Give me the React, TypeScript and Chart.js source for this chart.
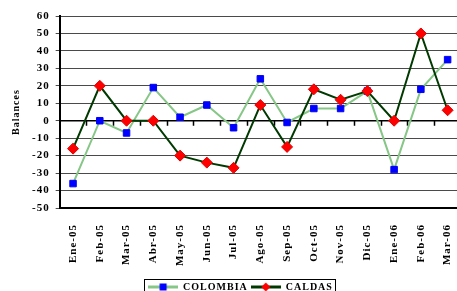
import React, { useEffect, useRef } from "react";
import { Chart, registerables } from "chart.js";

Chart.register(...registerables);

const categories = [
  "Ene-05", "Feb-05", "Mar-05", "Abr-05", "May-05", "Jun-05", "Jul-05", "Ago-05",
  "Sep-05", "Oct-05", "Nov-05", "Dic-05", "Ene-06", "Feb-06", "Mar-06",
];
const colombia = [-36, 0, -7, 19, 2, 9, -4, 24, -1, 7, 7, 17, -28, 18, 35];
const caldas = [-16, 20, 0, 0, -20, -24, -27, 9, -15, 18, 12, 17, 0, 50, 6];
const yMin = -50;
const yMax = 60;
const yStep = 10;
const yTitle = "Balances";

const FONT = "'Liberation Serif', 'Times New Roman', serif";
const LIGHT_GREEN = "#86C686";
const DARK_GREEN = "#003A00";
const BLUE = "#0000FF";
const RED = "#FF0000";

function legendIcon(line: string, fill: string, shape: "square" | "diamond") {
  const c = document.createElement("canvas");
  c.width = 30;
  c.height = 10;
  const ctx = c.getContext("2d")!;
  ctx.strokeStyle = line;
  ctx.lineWidth = 3;
  ctx.beginPath();
  ctx.moveTo(0, 5);
  ctx.lineTo(30, 5);
  ctx.stroke();
  ctx.fillStyle = fill;
  ctx.beginPath();
  if (shape === "square") {
    ctx.rect(11.5, 1.5, 7, 7);
  } else {
    ctx.moveTo(15, 0.5);
    ctx.lineTo(19.5, 5);
    ctx.lineTo(15, 9.5);
    ctx.lineTo(10.5, 5);
    ctx.closePath();
  }
  ctx.fill();
  return c;
}

const spacingPlugin = {
  id: "spacing",
  beforeLayout(chart: any) {
    (chart.ctx as any).letterSpacing = "1px";
  },
  afterLayout(chart: any) {
    if (chart.legend) {
      chart.legend.left += 7;
      chart.legend.right += 7;
    }
  },
  beforeDraw(chart: any) {
    (chart.ctx as any).letterSpacing = "1px";
  },
};

const zeroTicksPlugin = {
  id: "zeroTicks",
  beforeDatasetsDraw(chart: any) {
    const x = chart.scales.x;
    const y = chart.scales.y;
    const ctx = chart.ctx;
    const y0 = y.getPixelForValue(0);
    ctx.save();
    ctx.strokeStyle = "#000";
    ctx.lineWidth = 1.5;
    ctx.beginPath();
    ctx.moveTo(chart.chartArea.left, y0);
    ctx.lineTo(chart.chartArea.right, y0);
    for (let i = 0; i < categories.length - 1; i++) {
      const bx = (x.getPixelForValue(i) + x.getPixelForValue(i + 1)) / 2;
      ctx.moveTo(Math.round(bx) + 0.5, y0);
      ctx.lineTo(Math.round(bx) + 0.5, y0 + 5);
    }
    ctx.stroke();
    ctx.restore();
  },
};

const legendBoxPlugin = {
  id: "legendBox",
  afterDraw(chart: any) {
    const lg = chart.legend;
    if (!lg || !lg.legendHitBoxes || !lg.legendHitBoxes.length) return;
    const boxes = lg.legendHitBoxes;
    let l = Infinity, r = -Infinity, t = Infinity, b = -Infinity;
    for (const h of boxes) {
      l = Math.min(l, h.left);
      r = Math.max(r, h.left + h.width);
      t = Math.min(t, h.top);
      b = Math.max(b, h.top + h.height);
    }
    const ctx = chart.ctx;
    ctx.save();
    ctx.strokeStyle = "#000";
    ctx.lineWidth = 1;
    ctx.strokeRect(Math.round(l - 4) + 0.5, Math.round(t - 3) + 0.5, Math.round(r - l + 6), Math.round(b - t + 6));
    ctx.restore();
  },
};

export default function App() {
  const ref = useRef<HTMLCanvasElement>(null);

  useEffect(() => {
    if (!ref.current) return;
    const iconA = legendIcon(LIGHT_GREEN, BLUE, "square");
    const iconB = legendIcon(DARK_GREEN, RED, "diamond");
    const chart = new Chart(ref.current, {
      type: "line",
      data: {
        labels: categories,
        datasets: [
          {
            label: "CALDAS",
            data: caldas,
            borderColor: DARK_GREEN,
            borderWidth: 2,
            pointStyle: "rectRot",
            pointRadius: 5.5,
            pointBackgroundColor: RED,
            pointBorderColor: "#E00000",
            pointBorderWidth: 1,
            tension: 0,
          },
          {
            label: "COLOMBIA",
            data: colombia,
            borderColor: LIGHT_GREEN,
            borderWidth: 2,
            pointStyle: "rect",
            pointRadius: 4.6,
            pointBackgroundColor: BLUE,
            pointBorderColor: BLUE,
            pointBorderWidth: 1,
            tension: 0,
          },
        ],
      },
      options: {
        responsive: false,
        animation: false,
        devicePixelRatio: 1,
        layout: { padding: { top: 16, left: 6, right: 20, bottom: 0 } },
        plugins: {
          tooltip: { enabled: false },
          title: { display: false },
          legend: {
            position: "bottom",
            labels: {
              usePointStyle: true,
              pointStyleWidth: 30,
              boxHeight: 10,
              padding: 3,
              color: "#000",
              font: { family: FONT, size: 10, weight: "bold" },
              generateLabels: () => [
                { text: "COLOMBIA", pointStyle: iconA as any, fillStyle: BLUE, strokeStyle: LIGHT_GREEN, lineWidth: 0, hidden: false, datasetIndex: 1 } as any,
                { text: "CALDAS", pointStyle: iconB as any, fillStyle: RED, strokeStyle: DARK_GREEN, lineWidth: 0, hidden: false, datasetIndex: 0 } as any,
              ],
            },
          },
        },
        scales: {
          x: {
            type: "category",
            offset: true,
            afterFit: (s: any) => { s.height = 71; },
            grid: { display: false, drawTicks: false },
            border: { display: true, color: "#000", width: 2 },
            ticks: {
              autoSkip: false,
              maxRotation: 90,
              minRotation: 90,
              padding: 16,
              color: "#000",
              font: { family: FONT, size: 11, weight: "bold" },
            },
          },
          y: {
            min: yMin,
            max: yMax,
            ticks: {
              stepSize: yStep,
              autoSkip: false,
              padding: 6,
              color: "#000",
              font: { family: FONT, size: 11, weight: "bold" },
            },
            grid: { color: "#4a4a4a", lineWidth: 1, tickLength: 4, drawTicks: true },
            border: { display: true, color: "#000", width: 2 },
            title: {
              display: true,
              text: yTitle,
              color: "#000",
              font: { family: FONT, size: 10, weight: "bold" },
              padding: { top: 4, bottom: 4 },
            },
          },
        },
      },
      plugins: [spacingPlugin, zeroTicksPlugin, legendBoxPlugin],
    });
    return () => chart.destroy();
  }, []);

  return (
    <div style={{ position: "fixed", left: 0, top: 0, width: 457, height: 291, overflow: "hidden", background: "#fff" }}>
      <canvas ref={ref} width={481} height={302} style={{ width: 481, height: 302, display: "block" }} />
    </div>
  );
}
